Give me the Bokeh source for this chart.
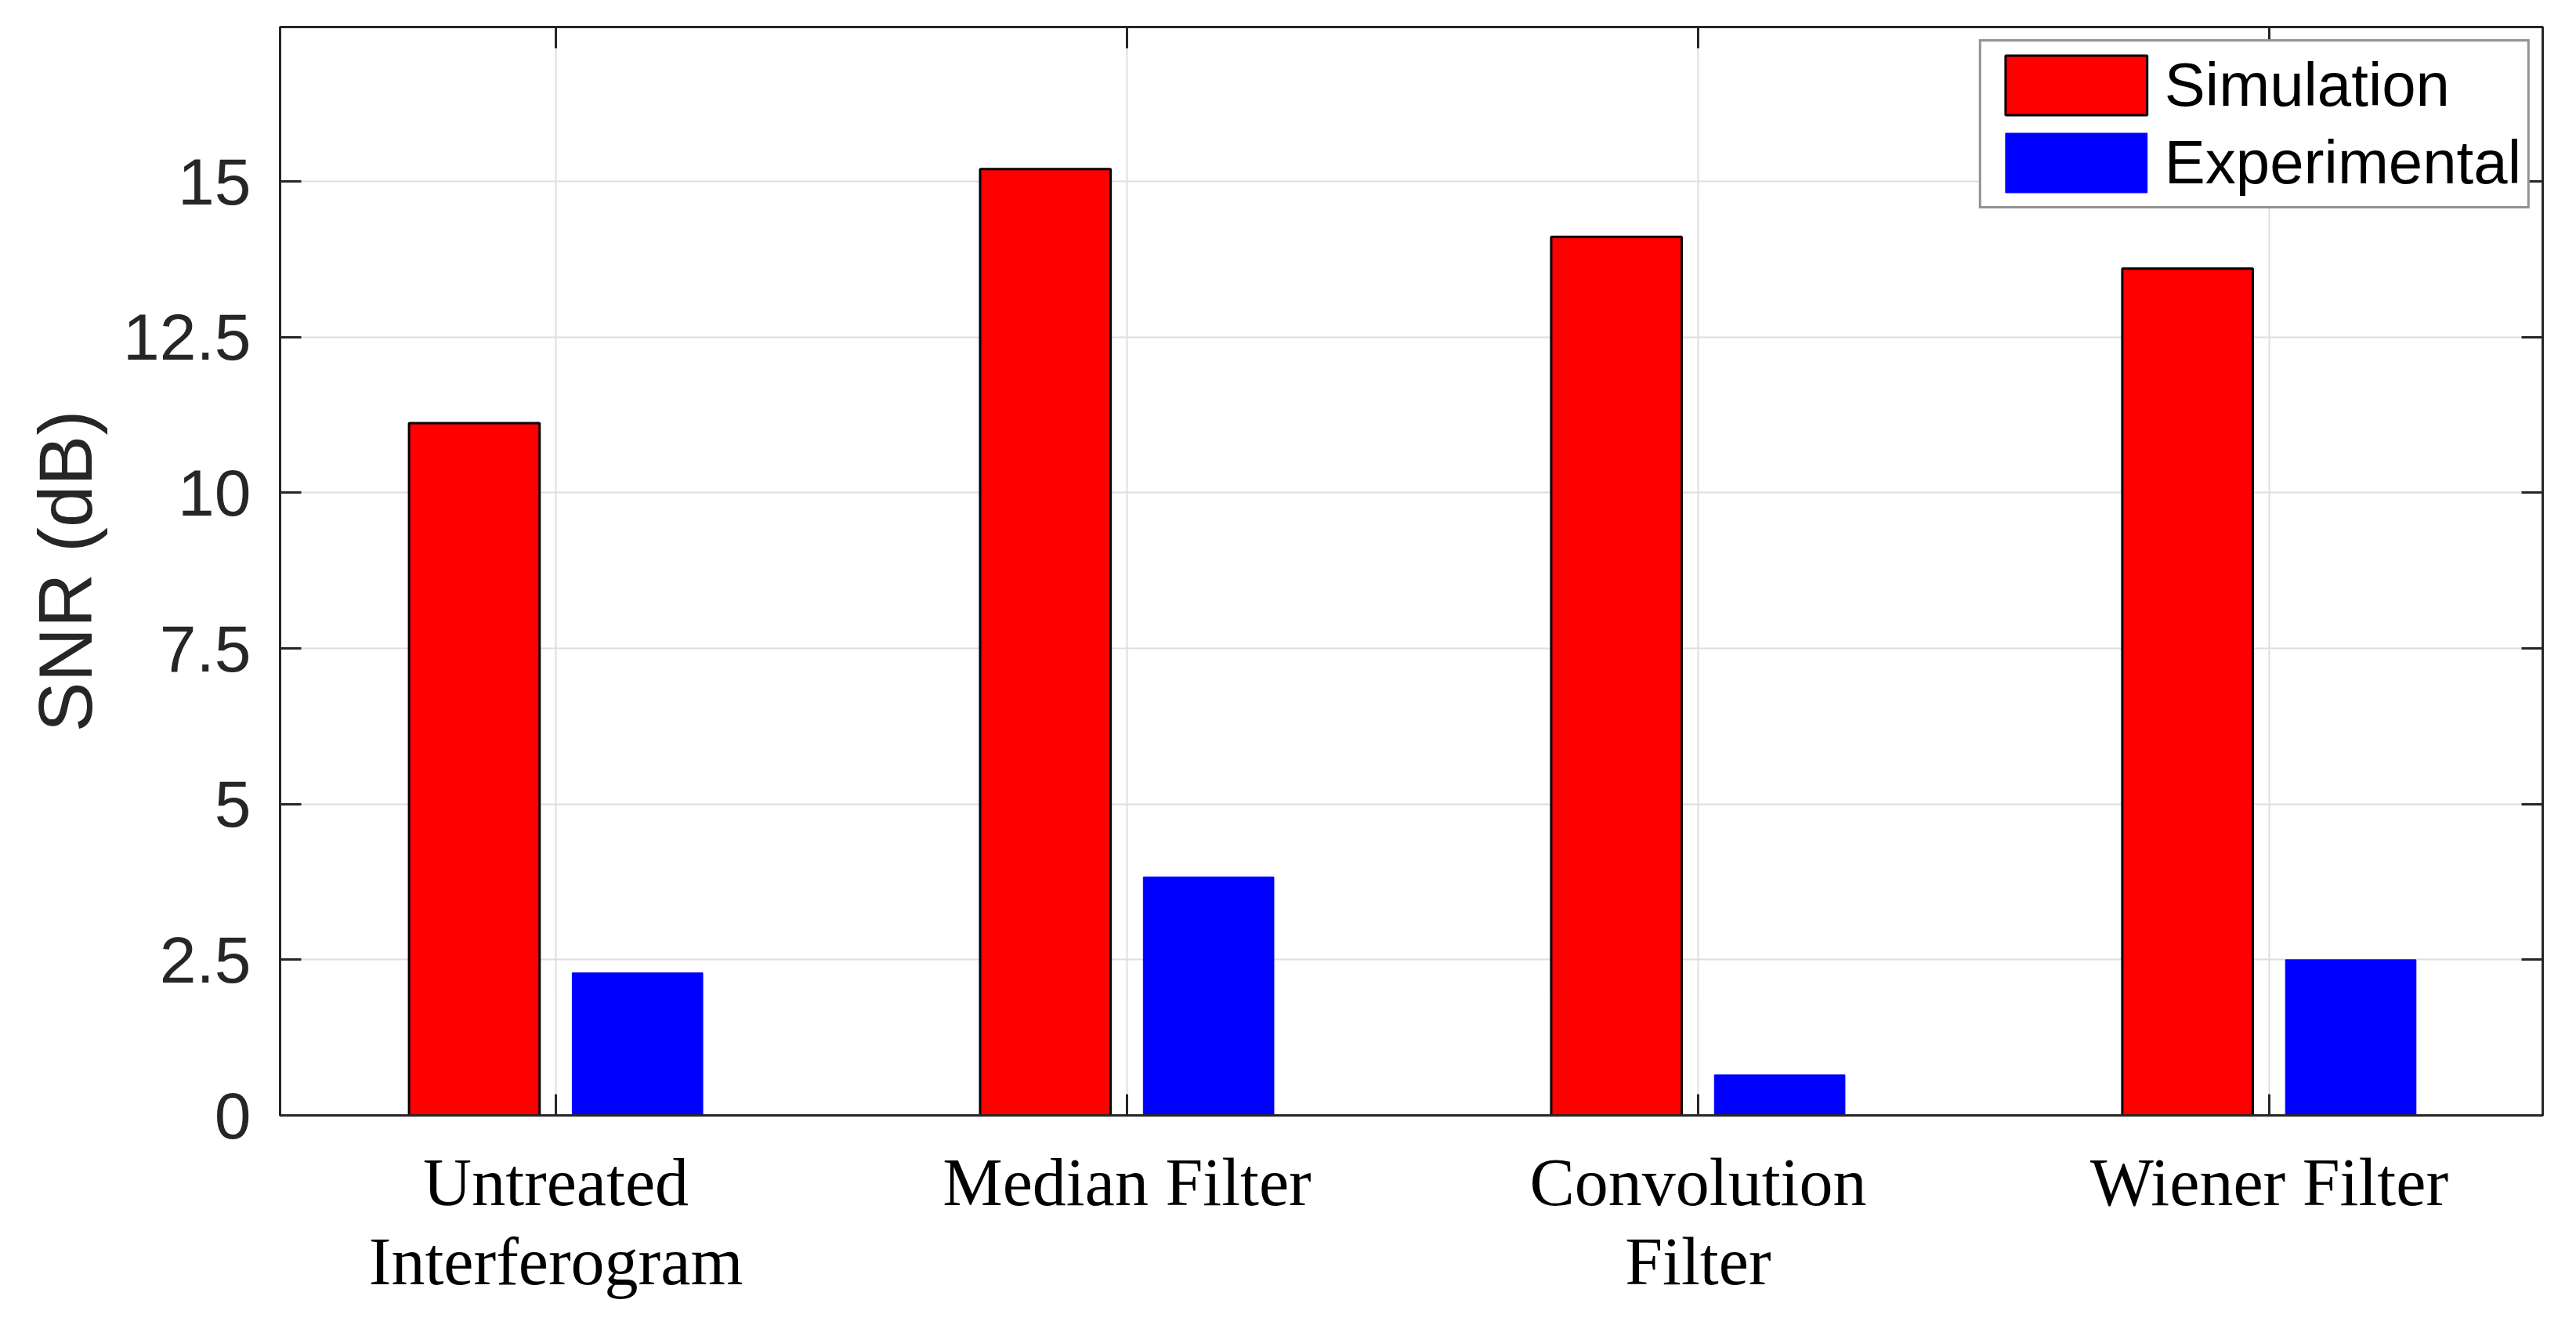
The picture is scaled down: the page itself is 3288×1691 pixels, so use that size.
from bokeh.plotting import figure
from bokeh.models import (ColumnDataSource, Range1d, FixedTicker, LinearAxis,
                          Legend, LegendItem)
from bokeh.transform import dodge
from bokeh.embed import file_html
from bokeh.resources import INLINE

# ---- data ----
categories = ["Untreated\nInterferogram", "Median Filter", "Convolution\nFilter", "Wiener Filter"]
positions = [1, 2, 3, 4]
simulation = [11.12, 15.20, 14.11, 13.60]
experimental = [2.29, 3.83, 0.65, 2.50]
y_ticks = [0, 2.5, 5, 7.5, 10, 12.5, 15]
y_tick_labels = ["0", "2.5", "5", "7.5", "10", "12.5", "15"]

src = ColumnDataSource(dict(pos=positions, sim=simulation, exp=experimental))

AX = "#262626"

p = figure(width=3272, height=1675, output_backend="svg", toolbar_location=None,
           x_range=Range1d(0.517, 4.479), y_range=Range1d(0, 17.48),
           min_border_left=357, min_border_right=27, min_border_top=34,
           min_border_bottom=252, background_fill_color="white",
           border_fill_color="white")

xt = FixedTicker(ticks=positions)
yt = FixedTicker(ticks=y_ticks)

p.xaxis.ticker = xt
p.yaxis.ticker = yt
p.xgrid.ticker = xt
p.ygrid.ticker = yt
p.xaxis.major_label_overrides = {pos: lab for pos, lab in zip(positions, categories)}
p.yaxis.major_label_overrides = {t: l for t, l in zip(y_ticks, y_tick_labels)}

for g in (p.xgrid, p.ygrid):
    g.grid_line_color = "#dedede"
    g.grid_line_width = 2

for ax in (p.xaxis, p.yaxis):
    ax.axis_line_color = AX
    ax.axis_line_width = 3
    ax.major_tick_line_color = AX
    ax.major_tick_line_width = 3
    ax.major_tick_in = 27
    ax.major_tick_out = 0
    ax.minor_tick_line_color = None

p.xaxis.major_label_text_font = "Liberation Serif"
p.xaxis.major_label_text_font_size = "86px"
p.xaxis.major_label_text_color = "black"
p.xaxis.major_label_standoff = 37
p.xaxis.major_label_text_line_height = 1.06

p.yaxis.major_label_text_font = "Liberation Sans"
p.yaxis.major_label_text_font_size = "84px"
p.yaxis.major_label_text_color = AX
p.yaxis.major_label_standoff = 37
p.yaxis.axis_label = "SNR (dB)"
p.yaxis.axis_label_text_font = "Liberation Sans"
p.yaxis.axis_label_text_font_size = "96px"
p.yaxis.axis_label_text_font_style = "normal"
p.yaxis.axis_label_text_color = AX
p.yaxis.axis_label_standoff = 17

# box axes (top / right) with inward ticks, no labels
top = LinearAxis(ticker=xt, major_label_standoff=0,
                 major_label_overrides={t: "" for t in positions},
                 major_tick_in=27, major_tick_out=0, major_tick_line_width=3,
                 major_tick_line_color=AX, axis_line_color=AX, axis_line_width=3,
                 minor_tick_line_color=None)
right = LinearAxis(ticker=yt, major_label_standoff=0,
                   major_label_overrides={t: "" for t in y_ticks},
                   major_tick_in=27, major_tick_out=0, major_tick_line_width=3,
                   major_tick_line_color=AX, axis_line_color=AX, axis_line_width=3,
                   minor_tick_line_color=None)
p.add_layout(top, "above")
p.add_layout(right, "right")

p.outline_line_color = AX
p.outline_line_width = 3

bw = 0.2286
r1 = p.vbar(x=dodge("pos", -0.1429), top="sim", width=bw, bottom=0, source=src,
            fill_color="#ff0000", line_color="black", line_width=3)
r2 = p.vbar(x=dodge("pos", 0.1429), top="exp", width=bw, bottom=0, source=src,
            fill_color="#0000ff", line_color="#0000ff", line_width=1)

legend = Legend(items=[LegendItem(label="Simulation", renderers=[r1]),
                       LegendItem(label="Experimental", renderers=[r2])],
                location="top_right", margin=16, padding=8, spacing=4,
                glyph_width=226, glyph_height=95, label_standoff=0,
                label_text_font="Liberation Sans", label_text_font_size="78px",
                label_text_color="black", border_line_color=AX, border_line_width=3,
                background_fill_color="white", background_fill_alpha=1.0)
p.add_layout(legend, "center")

open("out.html", "w").write(file_html(p, INLINE))
